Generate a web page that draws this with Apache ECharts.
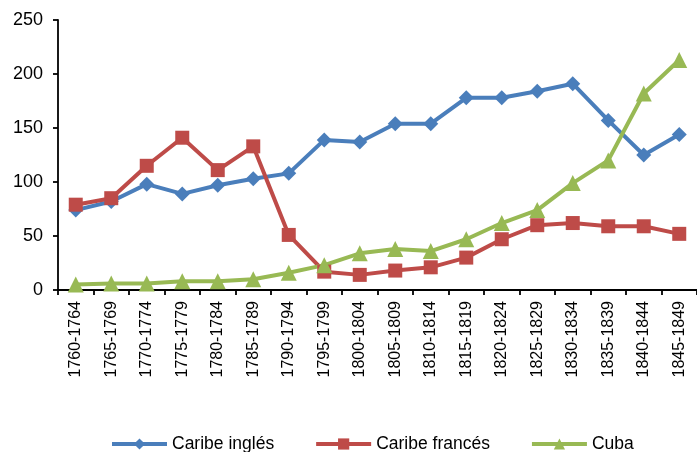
<!DOCTYPE html>
<html>
<head>
<meta charset="utf-8">
<script src="https://cdn.jsdelivr.net/npm/echarts@6/dist/echarts.min.js"></script>
<style>
  html, body { margin: 0; padding: 0; background: #ffffff; }
  #chart { width: 697px; height: 452px; }
</style>
</head>
<body>
<div id="chart"></div>
<script>
// Five-year periods on the category axis
const periods = [
  '1760-1764', '1765-1769', '1770-1774', '1775-1779', '1780-1784', '1785-1789',
  '1790-1794', '1795-1799', '1800-1804', '1805-1809', '1810-1814', '1815-1819',
  '1820-1824', '1825-1829', '1830-1834', '1835-1839', '1840-1844', '1845-1849'
];

// Series values per period
const caribeIngles = [74, 82, 98, 89, 97, 103, 108, 139, 137, 154, 154, 178, 178, 184, 191, 157, 125, 144];
const caribeFrances = [79, 85, 115, 141, 111, 133, 51, 17, 14, 18, 21, 30, 47, 60, 62, 59, 59, 52];
const cuba = [5, 6, 6, 8, 8, 10, 16, 23, 34, 38, 36, 47, 62, 74, 99, 120, 182, 213];

// Value-axis ticks
const yMin = 0, yMax = 250, yStep = 50;

const font = 'Liberation Sans, Arial, sans-serif';

function lineSeries(name, data, color, symbol, size) {
  return {
    name: name,
    type: 'line',
    data: data,
    symbol: symbol,
    symbolSize: size,
    showAllSymbol: true,
    lineStyle: { color: color, width: 4 },
    itemStyle: { color: color, borderWidth: 0 },
    emphasis: { disabled: true },
    animation: false
  };
}

const chart = echarts.init(document.getElementById('chart'), null, { renderer: 'canvas' });
chart.setOption({
  backgroundColor: '#ffffff',
  animation: false,
  textStyle: { fontFamily: font, color: '#000' },
  grid: { left: 58, top: 20, width: 646, height: 270, containLabel: false },
  legend: {
    left: 110,
    top: 435,
    padding: 0,
    itemWidth: 55,
    itemHeight: 14,
    itemGap: 40,
    lineStyle: { width: 4 },
    textStyle: { fontFamily: font, fontSize: 17.5, color: '#000' },
    data: ['Caribe inglés', 'Caribe francés', 'Cuba']
  },
  xAxis: {
    type: 'category',
    data: periods,
    boundaryGap: true,
    axisLine: { lineStyle: { color: '#000', width: 1.8 } },
    axisTick: { show: true, length: 5, inside: false, lineStyle: { color: '#000', width: 1.8 } },
    axisLabel: { rotate: 90, fontSize: 16, fontFamily: font, color: '#000', margin: 11, interval: 0 },
    splitLine: { show: false }
  },
  yAxis: {
    type: 'value',
    min: yMin,
    max: yMax,
    interval: yStep,
    axisLine: { show: true, lineStyle: { color: '#000', width: 1.8 } },
    axisTick: { show: true, length: 5, lineStyle: { color: '#000', width: 1.8 } },
    axisLabel: { fontSize: 18, fontFamily: font, color: '#000', margin: 15 },
    splitLine: { show: false }
  },
  series: [
    lineSeries('Caribe inglés', caribeIngles, '#4A7EBB', 'diamond', 15),
    lineSeries('Caribe francés', caribeFrances, '#BE4B48', 'rect', 14),
    lineSeries('Cuba', cuba, '#98B954', 'triangle', 16)
  ]
});
</script>
</body>
</html>
